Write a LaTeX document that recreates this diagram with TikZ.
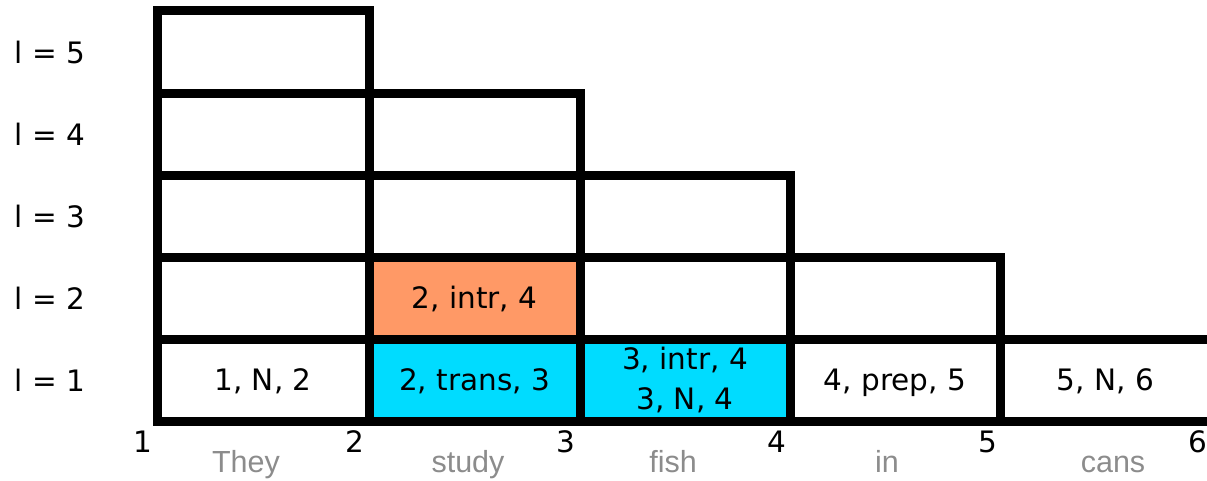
\documentclass[tikz,border=0pt]{standalone}
\usepackage{fontspec}
\setmainfont{DejaVu Sans}
\newfontfamily\wordfont{Liberation Sans}
\definecolor{chartorange}{HTML}{FF9966}
\definecolor{chartcyan}{HTML}{00DCFF}
\definecolor{wordgrey}{HTML}{8C8C8C}
\begin{document}
\begin{tikzpicture}[x=1pt,y=-1pt,
  gridline/.style={line width=9pt, line cap=rect, line join=miter},
  cell/.style={inner sep=0pt, minimum height=82pt, text height=21.5pt, text depth=0pt,
    font=\fontsize{29.5}{40}\selectfont},
  twoline/.style={inner sep=0pt, minimum height=82pt, align=center,
    font=\fontsize{29.5}{40}\selectfont},
  level/.style={inner sep=0pt, font=\fontsize{29.5}{36}\selectfont},
  boundary/.style={inner sep=0pt, anchor=base, font=\fontsize{29.5}{36}\selectfont},
  word/.style={inner sep=0pt, anchor=base, text=wordgrey, font=\wordfont\fontsize{30.5}{36}\selectfont}]
\useasboundingbox (0,0) rectangle (1207,480);
\clip (0,0) rectangle (1207,480);

% chart cells (fills and entries)
\node[cell, minimum width=212pt] (c11) at (263,380) {1, N, 2};
\node[cell, minimum width=211pt, fill=chartcyan] (c21) at (474.5,380) {2, trans, 3};
\node[twoline, minimum width=210pt, fill=chartcyan] (c31) at (685,380) {3, intr, 4\\3, N, 4};
\node[cell, minimum width=210pt] (c41) at (895,380) {4, prep, 5};
\node[cell, minimum width=211pt] (c51) at (1105.5,380) {5, N, 6};
\node[cell, minimum width=211pt, fill=chartorange] (c22) at (474.5,298) {2, intr, 4};

% staircase grid
\draw[gridline] (157,421) -- (1220,421);
\draw[gridline] (157,339) -- (1220,339);
\draw[gridline] (157,257) -- (1000,257);
\draw[gridline] (157,175.5) -- (790,175.5);
\draw[gridline] (157,93.5) -- (580,93.5);
\draw[gridline] (157,10.5) -- (369,10.5);
\draw[gridline] (157,421) -- (157,10.5);
\draw[gridline] (369,421) -- (369,10.5);
\draw[gridline] (580,421) -- (580,93.5);
\draw[gridline] (790,421) -- (790,175.5);
\draw[gridline] (1000,421) -- (1000,257);

% span lengths
\node[level] (l1) at (50,380) {l = 1};
\node[level] (l2) at (50,298) {l = 2};
\node[level] (l3) at (50,216) {l = 3};
\node[level] (l4) at (50,134.5) {l = 4};
\node[level] (l5) at (50,52) {l = 5};

% word boundaries
\node[boundary] (p1) at (143,452) {1};
\node[boundary] (p2) at (355,452) {2};
\node[boundary] (p3) at (566,452) {3};
\node[boundary] (p4) at (777,452) {4};
\node[boundary] (p5) at (988,452) {5};
\node[boundary] (p6) at (1198,452) {6};

% sentence
\node[word] (w1) at (246,472) {They};
\node[word] (w2) at (468,472) {study};
\node[word] (w3) at (673,472) {fish};
\node[word] (w4) at (887,472) {in};
\node[word] (w5) at (1113,472) {cans};
\end{tikzpicture}
\end{document}
